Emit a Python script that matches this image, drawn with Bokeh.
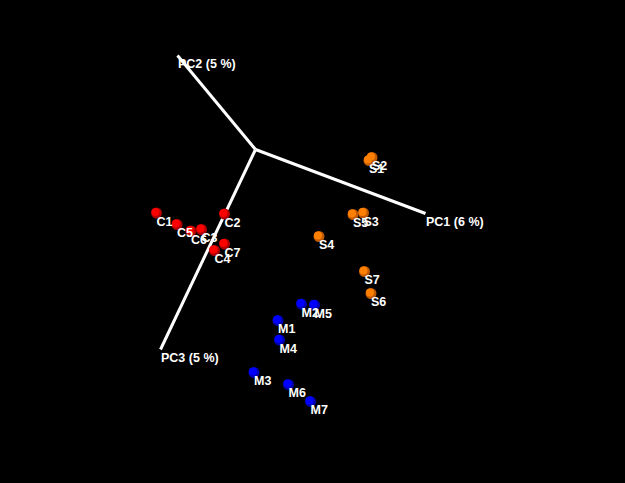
from bokeh.plotting import figure
from bokeh.models import ColumnDataSource, Range1d
from bokeh.core.properties import value
from bokeh.embed import file_html
from bokeh.resources import INLINE

# Projected sample coordinates (screen-like units of the 3D PCA view)
labels = ["C1", "C2", "C3", "C4", "C5", "C6", "C7",
          "S1", "S2", "S3", "S4", "S5", "S6", "S7",
          "M1", "M2", "M3", "M4", "M5", "M6", "M7"]
xs = [156, 224, 201, 214, 176.5, 190.5, 224,
      368.5, 371.5, 363, 318.5, 352.5, 370.5, 364,
      277.5, 301, 253.5, 279, 314, 288, 310]
ys = [212.5, 213.5, 229, 250, 224, 230.5, 243.5,
      160, 157, 212.5, 236, 214, 293, 271,
      320, 303.5, 372, 339.5, 304.5, 384, 401]
groups = ["C"] * 7 + ["S"] * 7 + ["M"] * 7
group_colors = {"C": "#ff0000", "S": "#ff8000", "M": "#0000ff"}
group_dark = {"C": "#b00000", "S": "#c05a00", "M": "#0000b0"}

# Axis end points of the 3D PCA frame (projected)
axis_origin = (255, 149)
axis_names = ["PC1 (6 %)", "PC2 (5 %)", "PC3 (5 %)"]
axis_end_x = [425, 177, 160]
axis_end_y = [213, 55, 349]

W, H = 625, 483
p = figure(width=W, height=H, output_backend="svg", toolbar_location=None,
           x_range=Range1d(0, W), y_range=Range1d(H, 0),
           min_border=0, background_fill_color="black", border_fill_color="black")
p.xaxis.visible = False
p.yaxis.visible = False
p.grid.visible = False
p.outline_line_color = None

# axes lines
p.segment(x0=[axis_origin[0]] * 3, y0=[axis_origin[1]] * 3, x1=axis_end_x, y1=axis_end_y,
          line_color="white", line_width=3)
p.text(x=[x + 0.5 for x in axis_end_x], y=[y + 8.5 for y in axis_end_y], text=axis_names,
       text_color="white", text_font=value("Liberation Sans"), text_font_size="12.5px",
       text_font_style="bold", text_baseline="alphabetic", text_align="left")

src = ColumnDataSource(dict(
    x=xs, y=ys, label=labels,
    color=[group_colors[g] for g in groups],
    dark=[group_dark[g] for g in groups],
    hx=[x - 1 for x in xs], hy=[y - 1 for y in ys],
    lx=[x for x in xs], ly=[y + 8.5 for y in ys],
))
p.scatter("x", "y", source=src, size=11, fill_color="dark", line_color=None)
p.scatter("hx", "hy", source=src, size=8, fill_color="color", line_color=None)
p.text("lx", "ly", text="label", source=src, text_color="white",
       text_font=value("Liberation Sans"), text_font_size="12.5px",
       text_font_style="bold", text_baseline="alphabetic", text_align="left")

html = file_html(p, INLINE)
html = html.replace("<head>", "<head><style>html,body{margin:0;padding:0;background:black;}</style>", 1)
open("out.html", "w").write(html)
